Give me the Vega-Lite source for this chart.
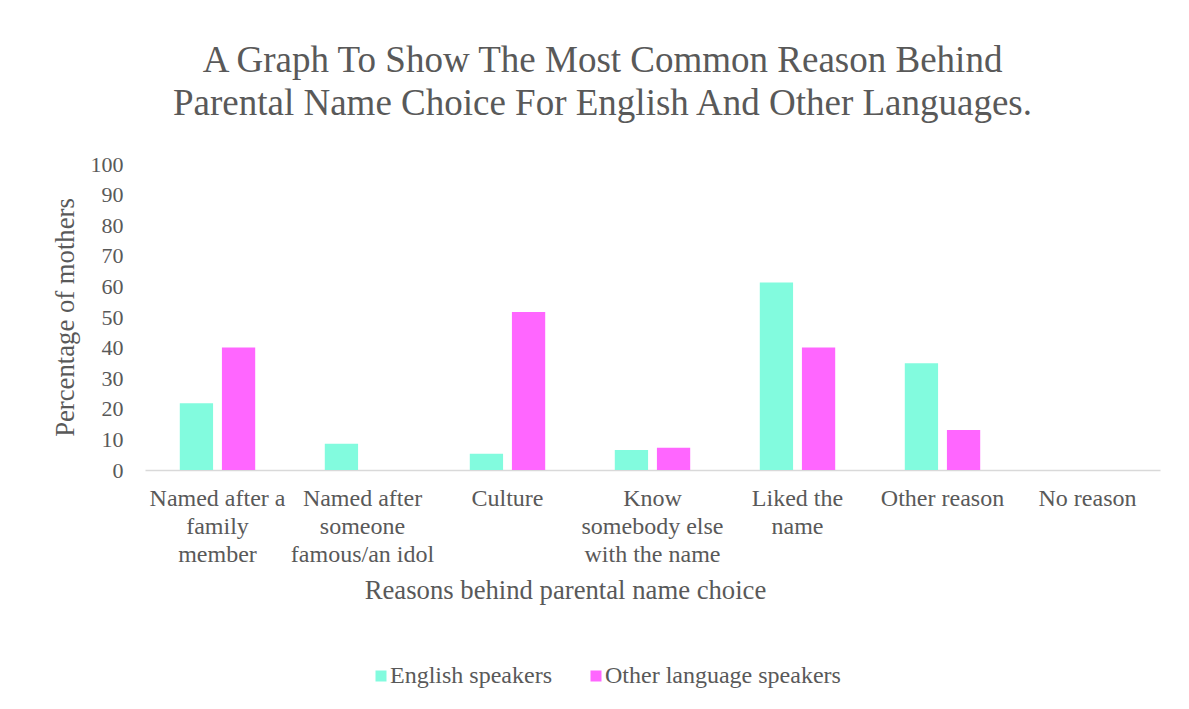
{
  "$schema": "https://vega.github.io/schema/vega-lite/v6.json",
  "autosize": {"type": "none"},
  "width": 1015,
  "height": 306,
  "padding": {"left": 145, "top": 164, "right": 29, "bottom": 239},
  "background": "white",
  "title": {
    "text": ["A Graph To Show The Most Common Reason Behind", "Parental Name Choice For English And Other Languages."],
    "font": "Liberation Serif",
    "fontSize": 37,
    "fontWeight": "normal",
    "color": "#595959",
    "lineHeight": 43,
    "anchor": "middle",
    "frame": "group",
    "dx": -50,
    "offset": 30
  },
  "data": {
    "values": [
      {"reason": "Named after a family member", "group": "English speakers", "pct": 21.8},
      {"reason": "Named after a family member", "group": "Other language speakers", "pct": 40.0},
      {"reason": "Named after someone famous/an idol", "group": "English speakers", "pct": 8.6},
      {"reason": "Named after someone famous/an idol", "group": "Other language speakers", "pct": 0},
      {"reason": "Culture", "group": "English speakers", "pct": 5.3},
      {"reason": "Culture", "group": "Other language speakers", "pct": 51.6},
      {"reason": "Know somebody else with the name", "group": "English speakers", "pct": 6.5},
      {"reason": "Know somebody else with the name", "group": "Other language speakers", "pct": 7.3},
      {"reason": "Liked the name", "group": "English speakers", "pct": 61.3},
      {"reason": "Liked the name", "group": "Other language speakers", "pct": 40.0},
      {"reason": "Other reason", "group": "English speakers", "pct": 34.9},
      {"reason": "Other reason", "group": "Other language speakers", "pct": 13.1},
      {"reason": "No reason", "group": "English speakers", "pct": 0},
      {"reason": "No reason", "group": "Other language speakers", "pct": 0}
    ]
  },
  "mark": {"type": "bar"},
  "encoding": {
    "x": {
      "field": "reason",
      "type": "nominal",
      "sort": null,
      "scale": {"paddingInner": 0.48, "paddingOuter": 0.24},
      "axis": {
        "title": "Reasons behind parental name choice",
        "titleFont": "Liberation Serif",
        "titleFontSize": 26.7,
        "titleFontWeight": "normal",
        "titleColor": "#595959",
        "titleX": 420,
        "titleY": 128,
        "titleBaseline": "alphabetic",
        "labelAngle": 0,
        "labelFont": "Liberation Serif",
        "labelFontSize": 24,
        "labelColor": "#595959",
        "labelLineHeight": 28,
        "labelPadding": 16,
        "labelBaseline": "top",
        "labelLimit": 300,
        "ticks": false,
        "domainColor": "#d9d9d9",
        "domainWidth": 1.5,
        "labelExpr": "datum.value == 'Named after a family member' ? ['Named after a', 'family', 'member'] : datum.value == 'Named after someone famous/an idol' ? ['Named after', 'someone', 'famous/an idol'] : datum.value == 'Know somebody else with the name' ? ['Know', 'somebody else', 'with the name'] : datum.value == 'Liked the name' ? ['Liked the', 'name'] : datum.value"
      }
    },
    "xOffset": {
      "field": "group",
      "type": "nominal",
      "scale": {"paddingInner": 0.21, "paddingOuter": 0}
    },
    "y": {
      "field": "pct",
      "type": "quantitative",
      "scale": {"domain": [0, 100], "nice": false},
      "axis": {
        "title": "Percentage of mothers",
        "titleFont": "Liberation Serif",
        "titleFontSize": 26.7,
        "titleFontWeight": "normal",
        "titleColor": "#595959",
        "titleX": -80,
        "titleY": 153,
        "titleAngle": -90,
        "titleAlign": "center",
        "titleBaseline": "middle",
        "values": [0, 10, 20, 30, 40, 50, 60, 70, 80, 90, 100],
        "labelFont": "Liberation Serif",
        "labelFontSize": 22,
        "labelColor": "#595959",
        "labelPadding": 22,
        "ticks": false,
        "domain": false,
        "grid": false
      }
    },
    "color": {
      "field": "group",
      "type": "nominal",
      "scale": {"domain": ["English speakers", "Other language speakers"], "range": ["#82FBDE", "#FF66FF"]},
      "legend": {
        "title": null,
        "orient": "none",
        "direction": "horizontal",
        "legendX": 224,
        "legendY": 500,
        "symbolType": "square",
        "symbolSize": 121,
        "symbolStrokeWidth": 0,
        "labelFont": "Liberation Serif",
        "labelFontSize": 24,
        "labelColor": "#595959",
        "labelOffset": -3,
        "columnPadding": 32,
        "labelLimit": 400
      }
    }
  },
  "config": {
    "view": {"stroke": null},
    "title": {"font": "Liberation Serif"}
  }
}
